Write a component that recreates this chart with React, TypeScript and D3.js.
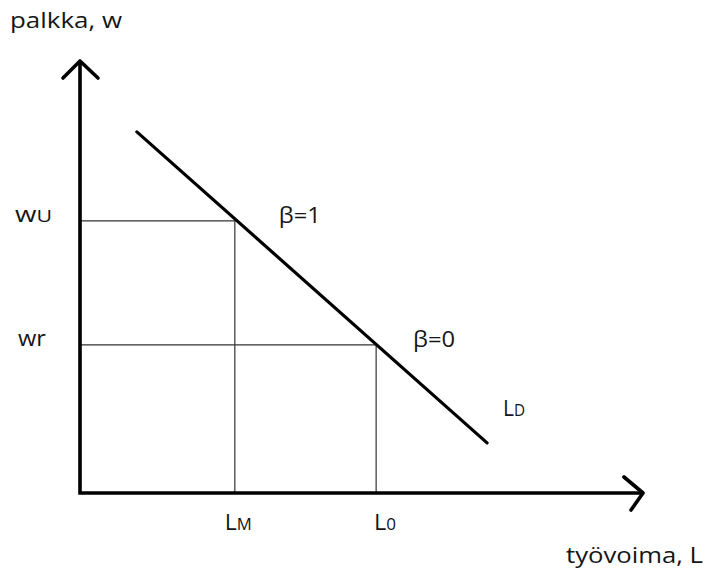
import React from "react";
import * as d3 from "d3";

// Economic values (data units, 0..100 on each axis)
const wageLevels = [
  { key: "wU", main: "w", sub: "U", value: 63.0 },
  { key: "wr", main: "w", sub: "r", value: 34.3 },
];
const laborLevels = [
  { key: "LM", main: "L", sub: "M", value: 27.5 },
  { key: "L0", main: "L", sub: "0", value: 52.6 },
];
// Labor demand curve endpoints
const demandX = [10.1, 72.3];
const demandY = [83.6, 11.6];
const betaLabels = ["β=1", "β=0"];
const axisTitles = ["palkka, w", "työvoima, L"];

const W = 709;
const H = 574;
const FONT = "'Open Sans', 'Noto Sans', sans-serif";

export default function App() {
  const x = d3.scaleLinear().domain([0, 100]).range([80, 643]);
  const y = d3.scaleLinear().domain([0, 100]).range([493, 61]);

  const demandPts: [number, number][] = demandX.map((v, i) => [x(v), y(demandY[i])]);
  const line = d3.line();

  const txt = { fontFamily: FONT, fill: "#151515" } as const;

  return (
    <svg
      width={W}
      height={H}
      style={{ position: "absolute", left: 0, top: 0, background: "#fff" }}
    >
      <rect width={W} height={H} fill="#fff" />
      {/* guide lines */}
      {wageLevels.map((d, i) => {
        const lx = x(laborLevels[i].value);
        return (
          <line
            key={d.key}
            x1={x(0)}
            x2={lx}
            y1={y(d.value)}
            y2={y(d.value)}
            stroke="#333"
            strokeWidth={1.2}
          />
        );
      })}
      {laborLevels.map((d, i) => (
        <line
          key={d.key}
          x1={x(d.value)}
          x2={x(d.value)}
          y1={y(wageLevels[i].value)}
          y2={y(0)}
          stroke="#333"
          strokeWidth={1.2}
        />
      ))}
      {/* axes */}
      <path
        d={line([[x(0), y(100)], [x(0), y(0)], [x(100), y(0)]]) || ""}
        fill="none"
        stroke="#000"
        strokeWidth={3.6}
        strokeLinejoin="miter"
      />
      <path
        d={line([[x(0) - 17, y(100) + 17], [x(0), y(100)], [x(0) + 18, y(100) + 17]]) || ""}
        fill="none"
        stroke="#000"
        strokeWidth={3.6}
        strokeLinecap="round"
        strokeLinejoin="round"
      />
      <path
        d={line([[x(100) - 19, y(0) - 16], [x(100), y(0)], [x(100) - 12, y(0) + 17]]) || ""}
        fill="none"
        stroke="#000"
        strokeWidth={3.6}
        strokeLinecap="round"
        strokeLinejoin="round"
      />
      {/* demand curve */}
      <path
        d={line(demandPts) || ""}
        fill="none"
        stroke="#000"
        strokeWidth={3.2}
        strokeLinecap="round"
      />
      {/* axis titles */}
      <text x={10} y={28} fontSize={21} textLength={112} lengthAdjust="spacingAndGlyphs" style={txt}>
        {axisTitles[0]}
      </text>
      <text x={566} y={563} fontSize={21} textLength={137} lengthAdjust="spacingAndGlyphs" style={txt}>
        {axisTitles[1]}
      </text>
      {/* wage labels */}
      {wageLevels.map((d, i) => (
        <text
          key={d.key}
          x={i === 0 ? 15 : 18}
          y={y(d.value) + 1}
          fontSize={22}
          textLength={i === 0 ? 37 : 28}
          lengthAdjust="spacingAndGlyphs"
          style={txt}
        >
          {d.main}
          <tspan fontSize={i === 0 ? 17 : 22}>{d.sub}</tspan>
        </text>
      ))}
      {/* labor labels */}
      {laborLevels.map((d, i) => (
        <text
          key={d.key}
          x={x(d.value) - 10 + i * 8}
          y={530}
          fontSize={22}
          textLength={i === 0 ? 27 : 22}
          lengthAdjust="spacingAndGlyphs"
          style={txt}
        >
          {d.main}
          <tspan fontSize={16}>{d.sub}</tspan>
        </text>
      ))}
      {/* beta labels */}
      {betaLabels.map((b, i) => (
        <text
          key={b}
          x={x(laborLevels[i].value) + 44 + i * -7}
          y={y(wageLevels[i].value) + 2}
          fontSize={22}
          textLength={42}
          lengthAdjust="spacingAndGlyphs"
          style={txt}
        >
          {b}
        </text>
      ))}
      <text
        x={x(demandX[1]) + 16}
        y={416}
        fontSize={22}
        textLength={22}
        lengthAdjust="spacingAndGlyphs"
        style={txt}
      >
        L<tspan fontSize={16}>D</tspan>
      </text>
    </svg>
  );
}
